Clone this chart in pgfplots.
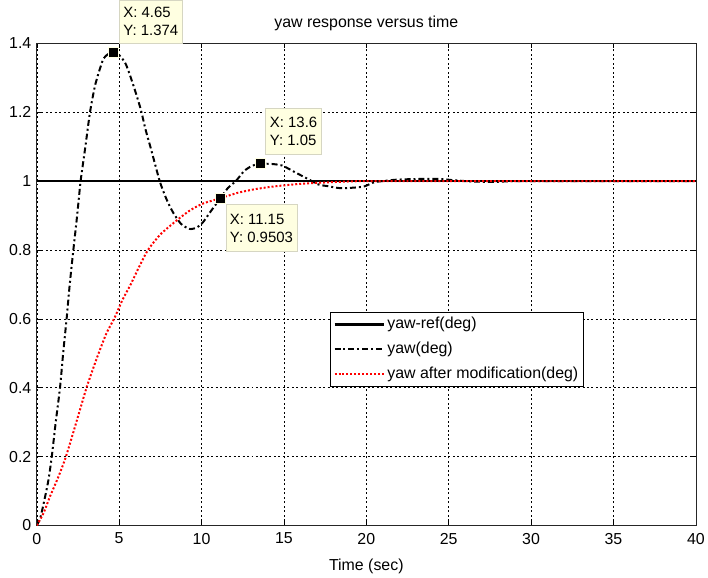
\documentclass[border=0pt]{standalone}
\usepackage{pgfplots}
\pgfplotsset{compat=1.18}
\usepackage{fontspec}
\setmainfont{Liberation Sans}
\definecolor{tipyellow}{HTML}{FFFFE1}
\definecolor{tipborder}{HTML}{D6D6C2}
\begin{document}
\begin{tikzpicture}[font=\fontsize{16}{19}\selectfont]
\begin{axis}[
  width=663pt, height=485pt, scale only axis,
  xmin=0, xmax=40, ymin=0, ymax=1.4,
  xtick={0,5,10,15,20,25,30,35,40},
  ytick={0,0.2,0.4,0.6,0.8,1,1.2,1.4},
  /pgf/number format/assume math mode=true,
  grid=major,
  major grid style={black, line width=0.5pt, dash pattern=on 2pt off 2.5pt},
  tick align=inside, major tick length=5pt,
  tick style={black, line width=0.5pt},
  axis line style={black!85, line width=0.7pt},
  title={yaw response versus time},
  title style={yshift=3.5pt},
  xlabel={Time (sec)},
  xticklabel style={yshift=-4pt},
  xlabel style={yshift=-8pt},
  yticklabel style={xshift=-2pt},
  clip mode=individual,
  legend cell align=left,
  legend style={at={(0.8296,0.4433)}, anchor=north east, draw=black, line width=0.6pt, fill=white,
    inner xsep=3pt, inner ysep=3pt, row sep=6pt,
    nodes={inner sep=2pt, text height=11.5pt, text depth=3.5pt}},
  legend image code/.code={\draw[#1] (0pt,0pt) -- (50pt,0pt);},
]
\addplot[black, line width=2.2pt] coordinates {(0,1) (40,1)};
\addlegendentry{yaw-ref(deg)}
\addplot[black, line width=2pt, dash pattern=on 6pt off 3pt on 2pt off 3pt, smooth, tension=0.4] coordinates {
(0,0) (0.2,0.02) (0.4,0.06) (0.7,0.13) (0.91,0.20) (1.15,0.30) (1.41,0.40) (1.6,0.50) (1.81,0.60) (2.0,0.70) (2.22,0.80) (2.45,0.90) (2.66,1.00) (2.95,1.10) (3.23,1.20) (3.55,1.28) (4.0,1.35) (4.3,1.368) (4.65,1.374) (5.0,1.366) (5.4,1.34) (5.85,1.28) (6.3,1.21) (6.6,1.15) (6.95,1.09) (7.46,1.0) (7.85,0.95) (8.27,0.909) (8.75,0.876) (9.27,0.861) (9.7,0.865) (10.08,0.88) (10.6,0.915) (11.15,0.9503) (11.6,0.98) (12.08,1.0) (12.6,1.03) (13.1,1.045) (13.6,1.05) (14.2,1.05) (14.9,1.045) (15.7,1.025) (16.5,1.005) (17.1,0.99) (17.7,0.985) (18.3,0.98) (18.9,0.98) (19.5,0.982) (19.9,0.985) (20.5,0.997) (21.0,1.0) (21.8,1.004) (23,1.006) (24.5,1.006) (25.2,1.003) (26,1.0) (27,0.998) (28,0.998) (29,1.0) (32,1.0) (36,1.0) (40,1.0)};
\addlegendentry{yaw(deg)}
\addplot[red, line width=2pt, dash pattern=on 2pt off 2pt, smooth, tension=0.4] coordinates {
(0,0) (0.4,0.035) (0.81,0.085) (1.3,0.14) (1.77,0.20) (2.4,0.30) (3.02,0.40) (3.6,0.48) (4.2,0.555) (4.74,0.605) (5.2,0.655) (5.7,0.70) (6.2,0.75) (6.75,0.80) (7.5,0.845) (8.47,0.885) (9.3,0.915) (10.1,0.935) (11.15,0.9503) (12.2,0.966) (13.3,0.977) (14.5,0.985) (16,0.992) (17.5,0.996) (19,0.999) (20.5,1.0) (30,1.0) (40,1.0)};
\addlegendentry{yaw after modification(deg)}
\addplot[only marks, mark=square*, mark size=5pt, mark options={fill=black, draw=tipyellow, line width=1pt}, forget plot] coordinates {(4.65,1.374) (11.15,0.9503) (13.6,1.05)};
\node[fill=tipyellow, draw=tipborder, line width=0.6pt, anchor=south west, align=left,
  font=\fontsize{15}{18}\selectfont, inner xsep=4pt, inner ysep=4pt, minimum width=63pt, minimum height=43pt]
  at (axis cs:5.0,1.4) {X: 4.65\\Y: 1.374};
\node[fill=tipyellow, draw=tipborder, line width=0.6pt, anchor=south west, align=left,
  font=\fontsize{15}{18}\selectfont, inner xsep=4pt, inner ysep=4pt, minimum width=56pt, minimum height=46pt]
  at (axis cs:13.88,1.077) {X: 13.6\\Y: 1.05};
\node[fill=tipyellow, draw=tipborder, line width=0.6pt, anchor=north west, align=left,
  font=\fontsize{15}{18}\selectfont, inner xsep=4pt, inner ysep=4pt, minimum width=71pt, minimum height=47pt]
  at (axis cs:11.46,0.9324) {X: 11.15\\Y: 0.9503};
\path (rel axis cs:0,0) ++(-37pt,-50pt);
\end{axis}
\end{tikzpicture}
\end{document}
